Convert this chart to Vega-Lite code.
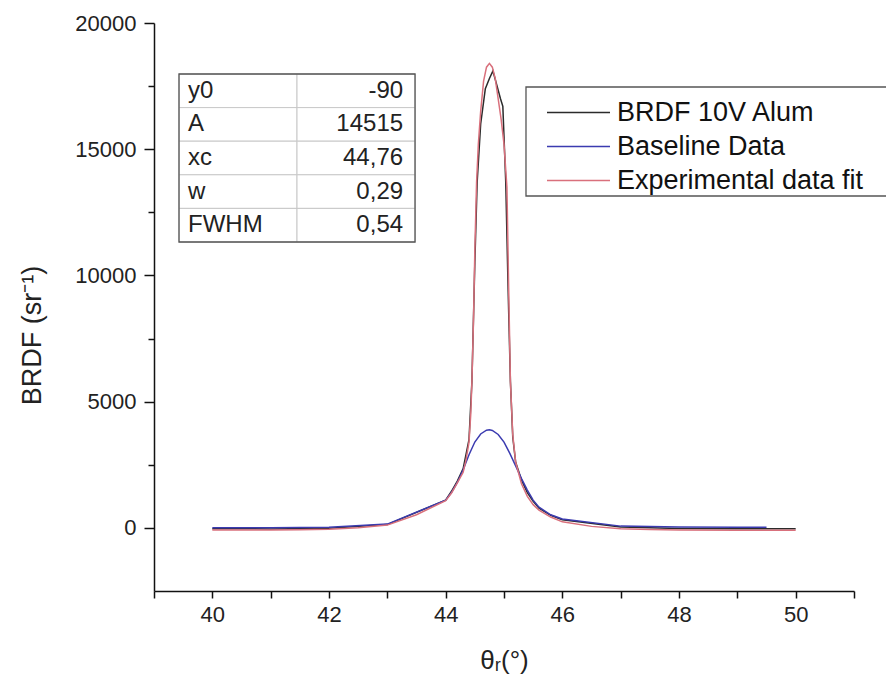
{
  "$schema": "https://vega.github.io/schema/vega-lite/v6.json",
  "width": 700,
  "height": 568,
  "autosize": {"type": "none"},
  "padding": {"left": 154, "top": 23, "right": 32, "bottom": 96},
  "background": "white",
  "config": {
    "font": "Liberation Sans",
    "view": {"stroke": null},
    "axis": {"grid": false, "domainColor": "#111", "tickColor": "#111", "domainWidth": 1.5, "tickWidth": 1.5, "labelColor": "#222", "titleColor": "#222", "titleFontWeight": "normal"}
  },
  "layer": [
    {
      "data": {"values": [{"box": "legend"}, {"box": "table"}]},
      "layer": [
        {
          "transform": [{"filter": "datum.box == 'legend'"}],
          "mark": {"type": "rect", "fill": "white", "stroke": "#555", "strokeWidth": 1.3, "clip": false},
          "encoding": {
            "x": {"datum": 45.377, "type": "quantitative"}, "x2": {"datum": 51.7},
            "y": {"datum": 17465, "type": "quantitative", "scale": {"domain": [-2500, 20000], "nice": false, "zero": false}, "axis": null},
            "y2": {"datum": 13147}
          }
        }
      ]
    },
    {
      "data": {"values": [
        {"theta": 40, "brdf": -30, "series": "BRDF 10V Alum"},
        {"theta": 41, "brdf": -40, "series": "BRDF 10V Alum"},
        {"theta": 42, "brdf": -10, "series": "BRDF 10V Alum"},
        {"theta": 43, "brdf": 130, "series": "BRDF 10V Alum"},
        {"theta": 44, "brdf": 1100, "series": "BRDF 10V Alum"},
        {"theta": 44.1, "brdf": 1450, "series": "BRDF 10V Alum"},
        {"theta": 44.2, "brdf": 1850, "series": "BRDF 10V Alum"},
        {"theta": 44.3, "brdf": 2350, "series": "BRDF 10V Alum"},
        {"theta": 44.4, "brdf": 3500, "series": "BRDF 10V Alum"},
        {"theta": 44.45, "brdf": 5800, "series": "BRDF 10V Alum"},
        {"theta": 44.5, "brdf": 10500, "series": "BRDF 10V Alum"},
        {"theta": 44.54, "brdf": 13700, "series": "BRDF 10V Alum"},
        {"theta": 44.6, "brdf": 16000, "series": "BRDF 10V Alum"},
        {"theta": 44.68, "brdf": 17400, "series": "BRDF 10V Alum"},
        {"theta": 44.75, "brdf": 17800, "series": "BRDF 10V Alum"},
        {"theta": 44.81, "brdf": 18100, "series": "BRDF 10V Alum"},
        {"theta": 44.87, "brdf": 17600, "series": "BRDF 10V Alum"},
        {"theta": 44.94, "brdf": 17000, "series": "BRDF 10V Alum"},
        {"theta": 44.98, "brdf": 16700, "series": "BRDF 10V Alum"},
        {"theta": 45.03, "brdf": 13700, "series": "BRDF 10V Alum"},
        {"theta": 45.07, "brdf": 9500, "series": "BRDF 10V Alum"},
        {"theta": 45.11, "brdf": 5800, "series": "BRDF 10V Alum"},
        {"theta": 45.15, "brdf": 3600, "series": "BRDF 10V Alum"},
        {"theta": 45.2, "brdf": 2600, "series": "BRDF 10V Alum"},
        {"theta": 45.3, "brdf": 1900, "series": "BRDF 10V Alum"},
        {"theta": 45.4, "brdf": 1400, "series": "BRDF 10V Alum"},
        {"theta": 45.5, "brdf": 1050, "series": "BRDF 10V Alum"},
        {"theta": 45.6, "brdf": 780, "series": "BRDF 10V Alum"},
        {"theta": 45.8, "brdf": 500, "series": "BRDF 10V Alum"},
        {"theta": 46, "brdf": 320, "series": "BRDF 10V Alum"},
        {"theta": 47, "brdf": 40, "series": "BRDF 10V Alum"},
        {"theta": 48, "brdf": -20, "series": "BRDF 10V Alum"},
        {"theta": 49, "brdf": -30, "series": "BRDF 10V Alum"},
        {"theta": 50, "brdf": -30, "series": "BRDF 10V Alum"},
        {"theta": 40, "brdf": 10, "series": "Baseline Data"},
        {"theta": 41, "brdf": 10, "series": "Baseline Data"},
        {"theta": 42, "brdf": 30, "series": "Baseline Data"},
        {"theta": 43, "brdf": 150, "series": "Baseline Data"},
        {"theta": 44, "brdf": 1100, "series": "Baseline Data"},
        {"theta": 44.1, "brdf": 1400, "series": "Baseline Data"},
        {"theta": 44.2, "brdf": 1800, "series": "Baseline Data"},
        {"theta": 44.3, "brdf": 2300, "series": "Baseline Data"},
        {"theta": 44.4, "brdf": 2900, "series": "Baseline Data"},
        {"theta": 44.5, "brdf": 3400, "series": "Baseline Data"},
        {"theta": 44.6, "brdf": 3720, "series": "Baseline Data"},
        {"theta": 44.7, "brdf": 3870, "series": "Baseline Data"},
        {"theta": 44.75, "brdf": 3890, "series": "Baseline Data"},
        {"theta": 44.8, "brdf": 3860, "series": "Baseline Data"},
        {"theta": 44.9, "brdf": 3700, "series": "Baseline Data"},
        {"theta": 45, "brdf": 3400, "series": "Baseline Data"},
        {"theta": 45.1, "brdf": 2950, "series": "Baseline Data"},
        {"theta": 45.2, "brdf": 2450, "series": "Baseline Data"},
        {"theta": 45.3, "brdf": 1950, "series": "Baseline Data"},
        {"theta": 45.4, "brdf": 1500, "series": "Baseline Data"},
        {"theta": 45.5, "brdf": 1100, "series": "Baseline Data"},
        {"theta": 45.6, "brdf": 820, "series": "Baseline Data"},
        {"theta": 45.8, "brdf": 520, "series": "Baseline Data"},
        {"theta": 46, "brdf": 350, "series": "Baseline Data"},
        {"theta": 47, "brdf": 70, "series": "Baseline Data"},
        {"theta": 48, "brdf": 40, "series": "Baseline Data"},
        {"theta": 49, "brdf": 30, "series": "Baseline Data"},
        {"theta": 49.5, "brdf": 30, "series": "Baseline Data"},
        {"theta": 40, "brdf": -85, "series": "Experimental data fit"},
        {"theta": 40.5, "brdf": -88, "series": "Experimental data fit"},
        {"theta": 41, "brdf": -85, "series": "Experimental data fit"},
        {"theta": 41.5, "brdf": -75, "series": "Experimental data fit"},
        {"theta": 42, "brdf": -50, "series": "Experimental data fit"},
        {"theta": 42.5, "brdf": 10, "series": "Experimental data fit"},
        {"theta": 43, "brdf": 110, "series": "Experimental data fit"},
        {"theta": 43.5, "brdf": 520, "series": "Experimental data fit"},
        {"theta": 44, "brdf": 1080, "series": "Experimental data fit"},
        {"theta": 44.1, "brdf": 1380, "series": "Experimental data fit"},
        {"theta": 44.2, "brdf": 1780, "series": "Experimental data fit"},
        {"theta": 44.3, "brdf": 2200, "series": "Experimental data fit"},
        {"theta": 44.35, "brdf": 2700, "series": "Experimental data fit"},
        {"theta": 44.4, "brdf": 3400, "series": "Experimental data fit"},
        {"theta": 44.43, "brdf": 4500, "series": "Experimental data fit"},
        {"theta": 44.45, "brdf": 5800, "series": "Experimental data fit"},
        {"theta": 44.48, "brdf": 8500, "series": "Experimental data fit"},
        {"theta": 44.5, "brdf": 11000, "series": "Experimental data fit"},
        {"theta": 44.53, "brdf": 13700, "series": "Experimental data fit"},
        {"theta": 44.56, "brdf": 15200, "series": "Experimental data fit"},
        {"theta": 44.6, "brdf": 16500, "series": "Experimental data fit"},
        {"theta": 44.65, "brdf": 17700, "series": "Experimental data fit"},
        {"theta": 44.7, "brdf": 18250, "series": "Experimental data fit"},
        {"theta": 44.75, "brdf": 18400, "series": "Experimental data fit"},
        {"theta": 44.8, "brdf": 18250, "series": "Experimental data fit"},
        {"theta": 44.85, "brdf": 17800, "series": "Experimental data fit"},
        {"theta": 44.9, "brdf": 17000, "series": "Experimental data fit"},
        {"theta": 44.95, "brdf": 16200, "series": "Experimental data fit"},
        {"theta": 45, "brdf": 15200, "series": "Experimental data fit"},
        {"theta": 45.05, "brdf": 13500, "series": "Experimental data fit"},
        {"theta": 45.08, "brdf": 9500, "series": "Experimental data fit"},
        {"theta": 45.11, "brdf": 5800, "series": "Experimental data fit"},
        {"theta": 45.15, "brdf": 3700, "series": "Experimental data fit"},
        {"theta": 45.2, "brdf": 2600, "series": "Experimental data fit"},
        {"theta": 45.3, "brdf": 1750, "series": "Experimental data fit"},
        {"theta": 45.4, "brdf": 1250, "series": "Experimental data fit"},
        {"theta": 45.5, "brdf": 920, "series": "Experimental data fit"},
        {"theta": 45.6, "brdf": 700, "series": "Experimental data fit"},
        {"theta": 45.8, "brdf": 430, "series": "Experimental data fit"},
        {"theta": 46, "brdf": 240, "series": "Experimental data fit"},
        {"theta": 46.5, "brdf": 60, "series": "Experimental data fit"},
        {"theta": 47, "brdf": -30, "series": "Experimental data fit"},
        {"theta": 47.5, "brdf": -65, "series": "Experimental data fit"},
        {"theta": 48, "brdf": -80, "series": "Experimental data fit"},
        {"theta": 49, "brdf": -90, "series": "Experimental data fit"},
        {"theta": 50, "brdf": -90, "series": "Experimental data fit"}
      ]},
      "mark": {"type": "line", "strokeWidth": 1.5, "clip": true},
      "encoding": {
        "x": {"field": "theta", "type": "quantitative",
          "scale": {"domain": [39, 51], "nice": false, "zero": false},
          "axis": {"values": [39, 40, 41, 42, 43, 44, 45, 46, 47, 48, 49, 50, 51],
            "format": "d",
            "labelExpr": "(datum.value % 2 == 0 && datum.value >= 40 && datum.value <= 50) ? datum.label : ''",
            "tickSize": 7, "labelFontSize": 22, "labelPadding": 6, "labelFlush": false, "labelOverlap": false,
            "title": "θᵣ(°)", "titleFontSize": 26, "titlePadding": 22}},
        "y": {"field": "brdf", "type": "quantitative",
          "scale": {"domain": [-2500, 20000], "nice": false, "zero": false},
          "axis": {"values": [0, 2500, 5000, 7500, 10000, 12500, 15000, 17500, 20000],
            "format": "d",
            "labelExpr": "datum.value % 5000 == 0 ? datum.label : ''",
            "tickSize": {"condition": {"test": "datum.value % 5000 == 0", "value": 10}, "value": 6},
            "labelFontSize": 22, "labelPadding": 8, "labelOverlap": false, "labelFlush": false,
            "title": "BRDF (sr⁻¹)", "titleFontSize": 27, "titlePadding": 28, "titleY": 312}},
        "color": {"field": "series", "type": "nominal",
          "scale": {"domain": ["BRDF 10V Alum", "Baseline Data", "Experimental data fit"], "range": ["#2b2b2b", "#3b3bb0", "#d9707c"]},
          "legend": {"orient": "none", "legendX": 372, "legendY": 66, "title": null,
            "symbolType": "M-6.3,0H6.3", "symbolSize": 100, "symbolStrokeWidth": 1.5, "symbolOffset": 29,
            "labelFontSize": 27, "labelColor": "#111", "labelLimit": 600,
            "rowPadding": 6, "padding": 10, "strokeColor": "transparent", "fillColor": "transparent",
            "labelOffset": 25}}
      }
    },
    {
      "data": {"values": [
        {"row": 1, "param": "y0", "val": "-90"},
        {"row": 2, "param": "A", "val": "14515"},
        {"row": 3, "param": "xc", "val": "44,76"},
        {"row": 4, "param": "w", "val": "0,29"},
        {"row": 5, "param": "FWHM", "val": "0,54"}
      ]},
      "encoding": {
        "y": {"field": "row", "type": "ordinal", "scale": {"type": "band", "paddingInner": 0, "paddingOuter": 0, "range": [51, 219]}, "axis": null}
      },
      "layer": [
        {"mark": {"type": "rect", "fill": "white", "stroke": "#c8c8c8", "strokeWidth": 1},
          "encoding": {"x": {"datum": 39.4286, "type": "quantitative"}, "x2": {"datum": 41.4516}}},
        {"mark": {"type": "rect", "fill": "white", "stroke": "#c8c8c8", "strokeWidth": 1},
          "encoding": {"x": {"datum": 41.4516, "type": "quantitative"}, "x2": {"datum": 43.475}}},
        {"mark": {"type": "text", "align": "left", "baseline": "middle", "fontSize": 24, "color": "#222"},
          "encoding": {"x": {"datum": 39.583, "type": "quantitative"}, "text": {"field": "param"}}},
        {"mark": {"type": "text", "align": "right", "baseline": "middle", "fontSize": 24, "color": "#222"},
          "encoding": {"x": {"datum": 43.27, "type": "quantitative"}, "text": {"field": "val"}}}
      ]
    },
    {
      "data": {"values": [{"box": "table"}]},
      "mark": {"type": "rect", "fill": null, "fillOpacity": 0, "stroke": "#555", "strokeWidth": 1.3},
      "encoding": {
        "x": {"datum": 39.4286, "type": "quantitative"}, "x2": {"datum": 43.475},
        "y": {"datum": 17980, "type": "quantitative", "scale": {"domain": [-2500, 20000], "nice": false, "zero": false}, "axis": null},
        "y2": {"datum": 11325}
      }
    }
  ],
  "resolve": {"scale": {"y": "independent"}}
}
